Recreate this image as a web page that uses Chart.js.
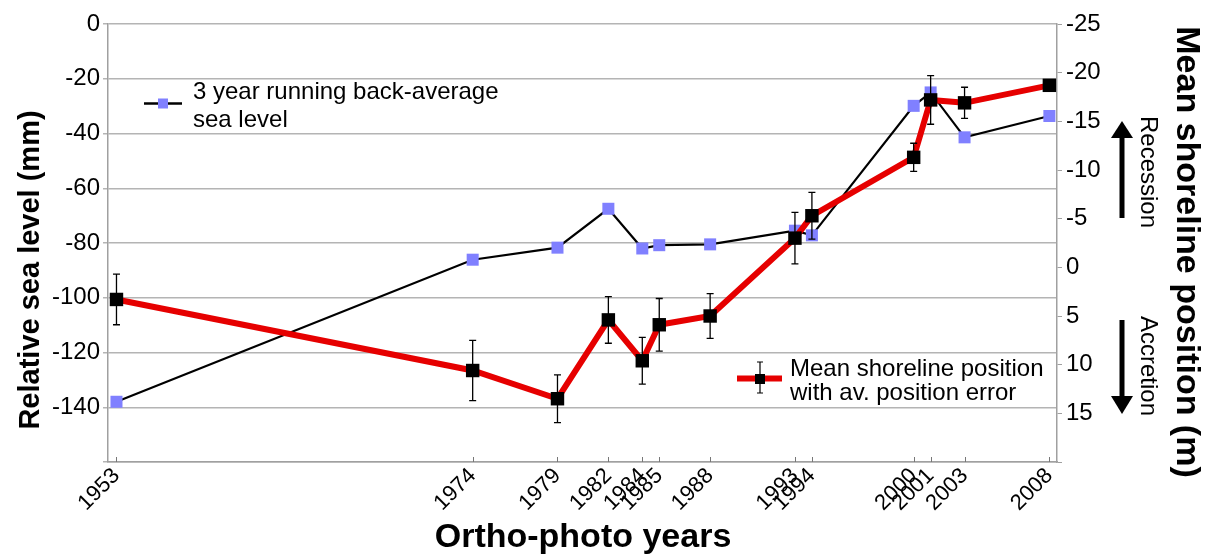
<!DOCTYPE html>
<html>
<head>
<meta charset="utf-8">
<script src="https://cdn.jsdelivr.net/npm/chart.js@4.4.1/dist/chart.umd.min.js"></script>
<style>
  html, body { margin: 0; padding: 0; background: #fff; }
  #wrap { position: relative; width: 1209px; height: 555px; }
</style>
</head>
<body>
<div id="wrap"><canvas id="myChart"></canvas></div>
<script>
// ortho-photo years (x values)
const years = [1953, 1974, 1979, 1982, 1984, 1985, 1988, 1993, 1994, 2000, 2001, 2003, 2008];
// 3 year running back-average sea level (mm, left axis)
const seaLevel = [-138, -86.1, -81.7, -67.5, -82, -80.8, -80.5, -75.5, -77.2, -29.9, -25, -41.4, -33.6];
// mean shoreline position (m, right axis, reversed)
const shoreline = [3.3, 10.6, 13.5, 5.4, 9.6, 5.9, 5.0, -3.0, -5.3, -11.3, -17.2, -16.9, -18.7];
// av. position error (+/- m)
const shoreError = [2.6, 3.1, 2.45, 2.4, 2.4, 2.7, 2.3, 2.65, 2.4, 1.45, 2.5, 1.6, 0];

const leftTitle = 'Relative sea level (mm)';
const rightTitle = 'Mean shoreline position (m)';
const xTitle = 'Ortho-photo years';
const seaLabel = ['3 year running back-average', 'sea level'];
const shoreLabel = ['Mean shoreline position', 'with av. position error'];

const FONT = '"Liberation Sans", Arial, sans-serif';
const RED = '#e60000';
const BLUE = '#8080ff';
const GRID = '#b4b4b4';

function toPoints(xs, ys) {
  return xs.map((x, i) => ({ x: x, y: ys[i] }));
}

// error bars, legends, titles and arrows
const extras = {
  id: 'extras',
  afterDatasetsDraw(chart) {
    const ctx = chart.ctx;
    const xs = chart.scales.x;
    const yr = chart.scales.y2;
    ctx.save();
    ctx.strokeStyle = '#000';
    ctx.lineWidth = 1.3;
    years.forEach((yr0, i) => {
      if (!shoreError[i]) return;
      const px = xs.getPixelForValue(yr0);
      const top = yr.getPixelForValue(shoreline[i] - shoreError[i]);
      const bot = yr.getPixelForValue(shoreline[i] + shoreError[i]);
      ctx.beginPath();
      ctx.moveTo(px, top); ctx.lineTo(px, bot);
      ctx.moveTo(px - 3.5, top); ctx.lineTo(px + 3.5, top);
      ctx.moveTo(px - 3.5, bot); ctx.lineTo(px + 3.5, bot);
      ctx.stroke();
    });
    // small inward ticks on x axis
    ctx.strokeStyle = '#777';
    ctx.lineWidth = 1;
    const base = chart.chartArea.bottom;
    years.forEach((y0) => {
      const px = Math.round(xs.getPixelForValue(y0)) + 0.5;
      ctx.beginPath(); ctx.moveTo(px, base); ctx.lineTo(px, base - 5); ctx.stroke();
    });
    ctx.restore();
  },
  afterDraw(chart) {
    const ctx = chart.ctx;
    ctx.save();
    ctx.fillStyle = '#000';

    // legend 1
    ctx.strokeStyle = '#000';
    ctx.lineWidth = 2.5;
    ctx.beginPath(); ctx.moveTo(144, 103.5); ctx.lineTo(182, 103.5); ctx.stroke();
    ctx.fillStyle = BLUE;
    ctx.fillRect(158, 98.5, 10, 10);
    ctx.fillStyle = '#000';
    ctx.font = '24px ' + FONT;
    ctx.textAlign = 'left';
    ctx.textBaseline = 'middle';
    ctx.fillText(seaLabel[0], 193, 92);
    ctx.fillText(seaLabel[1], 193, 120);

    // legend 2
    ctx.strokeStyle = RED;
    ctx.lineWidth = 6;
    ctx.beginPath(); ctx.moveTo(737, 378.5); ctx.lineTo(782, 378.5); ctx.stroke();
    ctx.strokeStyle = '#000';
    ctx.lineWidth = 1.2;
    ctx.beginPath();
    ctx.moveTo(760, 362); ctx.lineTo(760, 393);
    ctx.moveTo(757, 362); ctx.lineTo(763, 362);
    ctx.moveTo(757, 393); ctx.lineTo(763, 393);
    ctx.stroke();
    ctx.fillRect(755, 374, 10, 10);
    ctx.fillText(shoreLabel[0], 790, 369);
    ctx.fillText(shoreLabel[1], 790, 393);

    // axis titles
    ctx.font = 'bold 34px ' + FONT;
    ctx.textAlign = 'center';
    ctx.fillText(xTitle, 583, 538);

    ctx.save();
    ctx.translate(1186, 252);
    ctx.rotate(Math.PI / 2);
    ctx.fillText(rightTitle, 0, 0);
    ctx.restore();

    ctx.font = 'bold 29px ' + FONT;
    ctx.save();
    ctx.translate(31, 270);
    ctx.rotate(-Math.PI / 2);
    ctx.fillText(leftTitle, 0, 0);
    ctx.restore();

    // recession / accretion
    ctx.font = '24px ' + FONT;
    ctx.save();
    ctx.translate(1148, 172);
    ctx.rotate(Math.PI / 2);
    ctx.fillText('Recession', 0, 0);
    ctx.restore();
    ctx.save();
    ctx.translate(1148, 366);
    ctx.rotate(Math.PI / 2);
    ctx.fillText('Accretion', 0, 0);
    ctx.restore();

    // arrows
    ctx.fillRect(1119.5, 136, 5, 82);
    ctx.beginPath();
    ctx.moveTo(1122, 121); ctx.lineTo(1133, 138); ctx.lineTo(1111, 138); ctx.closePath();
    ctx.fill();
    ctx.fillRect(1119.5, 320, 5, 78);
    ctx.beginPath();
    ctx.moveTo(1122, 414); ctx.lineTo(1133, 396); ctx.lineTo(1111, 396); ctx.closePath();
    ctx.fill();

    ctx.restore();
  }
};

function mainChart() {
  const target = document.querySelector('#myChart');
  const data = {
    datasets: [
      {
        label: 'Mean shoreline position',
        data: toPoints(years, shoreline),
        yAxisID: 'y2',
        borderColor: RED,
        borderWidth: 6,
        pointStyle: 'rect',
        pointRadius: 9.5,
        pointBackgroundColor: '#000',
        pointBorderWidth: 0,
        tension: 0
      },
      {
        label: '3 year running back-average sea level',
        data: toPoints(years, seaLevel),
        yAxisID: 'y',
        borderColor: '#000',
        borderWidth: 2.2,
        pointStyle: 'rect',
        pointRadius: 8.5,
        pointBackgroundColor: BLUE,
        pointBorderWidth: 0,
        tension: 0
      }
    ]
  };

  const config = {
    type: 'line',
    data: data,
    options: {
      responsive: false,
      animation: false,
      layout: { padding: { top: 24, left: 0, right: 0, bottom: 0 } },
      plugins: { legend: { display: false }, tooltip: { enabled: false } },
      scales: {
        x: {
          type: 'linear',
          min: 1952.5,
          max: 2008.45,
          afterBuildTicks: (s) => { s.ticks = years.map((v) => ({ value: v })); },
          afterFit: (s) => { s.height = 93; },
          grid: { display: false },
          border: { color: '#a0a0a0', width: 1.5 },
          ticks: {
            autoSkip: false,
            minRotation: 45,
            maxRotation: 45,
            color: '#000',
            padding: -7,
            font: { family: FONT, size: 22 },
            callback: (v) => String(v)
          }
        },
        y: {
          position: 'left',
          min: -160,
          max: 0,
          afterFit: (s) => { s.width = 108; },
          grid: { color: GRID, lineWidth: 1.5, tickLength: 5 },
          border: { color: '#a0a0a0', width: 1.5 },
          ticks: {
            stepSize: 20,
            color: '#000',
            padding: 3,
            font: { family: FONT, size: 24 },
            callback: (v) => (v === -160 ? '' : String(v))
          }
        },
        y2: {
          position: 'right',
          reverse: true,
          min: -25,
          max: 20,
          afterFit: (s) => { s.width = 152; },
          grid: { drawOnChartArea: false, color: '#a0a0a0', tickLength: 5 },
          border: { color: '#a0a0a0', width: 1.5 },
          ticks: {
            stepSize: 5,
            color: '#000',
            padding: 4,
            font: { family: FONT, size: 24 },
            callback: (v) => (v === 20 ? '' : String(v))
          }
        }
      }
    },
    plugins: [extras]
  };

  target.width = 1209;
  target.height = 555;
  return new Chart(target, config);
}

document.addEventListener('DOMContentLoaded', () => mainChart());
</script>
</body>
</html>
